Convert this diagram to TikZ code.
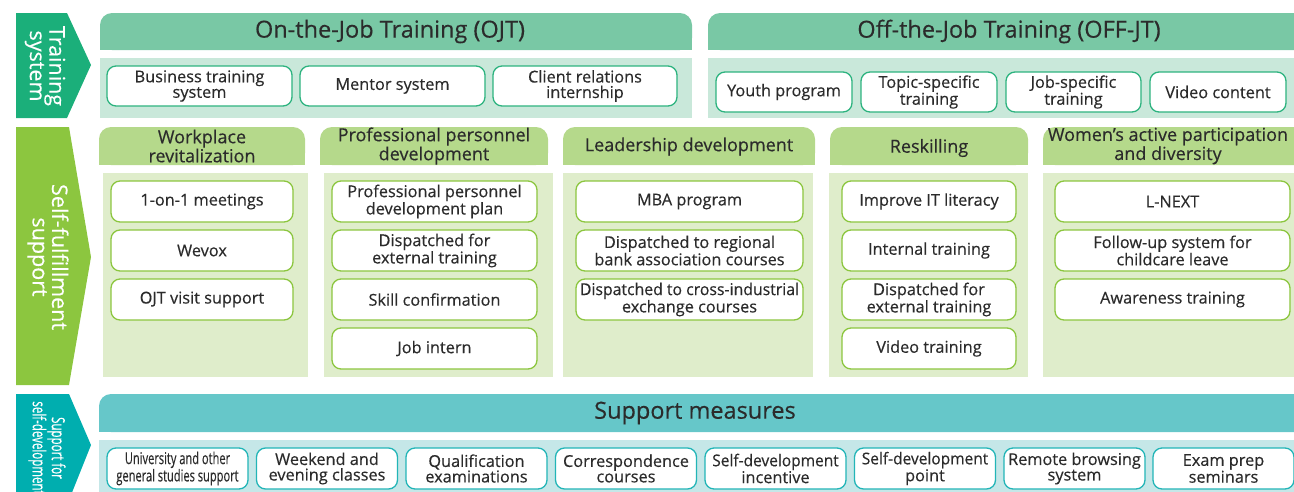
\documentclass[tikz,border=0pt]{standalone}
\usepackage{fontspec}
\setmainfont{Open Sans}[FakeBold=0.35]
\definecolor{tsArrow}{HTML}{1BAF7A}
\definecolor{ojtHead}{HTML}{79C8A5}
\definecolor{ojtBody}{HTML}{C9E8DA}
\definecolor{ojtLine}{HTML}{2DB37F}
\definecolor{sfArrow}{HTML}{8CC63F}
\definecolor{sfHead}{HTML}{B5D98B}
\definecolor{sfBody}{HTML}{DFEDCB}
\definecolor{sfLine}{HTML}{8CC63F}
\definecolor{smArrow}{HTML}{00AEAF}
\definecolor{smHead}{HTML}{66C7C9}
\definecolor{smBody}{HTML}{C5E7E8}
\definecolor{smLine}{HTML}{22B5B7}
\definecolor{txt}{HTML}{2B2B2B}
\begin{document}
\begin{tikzpicture}[x=1pt,y=-1pt,
  itm/.style={draw, line width=1.3pt, fill=white, rounded corners=9pt, inner sep=0pt,
    align=center, text=txt, font=\fontsize{16.3}{15.5}\selectfont},
  itmT/.style={itm, draw=ojtLine, minimum height=40pt},
  itmS/.style={itm, draw=sfLine, minimum height=41pt},
  itmM/.style={itm, draw=smLine, minimum height=41pt, minimum width=141pt},
  bigT/.style={text=txt, font=\fontsize{23.5}{23}\selectfont},
  midT/.style={text=txt, align=center, font=\fontsize{18}{17}\selectfont},
  arrT/.style={rotate=-90, text=white, align=center, font=\fontsize{21.5}{19.5}\selectfont},
]
\useasboundingbox (0,0) rectangle (1294,491);

% ---------- left arrows ----------
\fill[tsArrow] (16,13) -- (67,13) -- (91,65) -- (67,118) -- (16,118) -- cycle;
\node[arrT] (ts) at (45,66) {Training\\system};
\fill[sfArrow] (16,127) -- (69,127) -- (91,257) -- (69,385) -- (16,385) -- cycle;
\node[arrT] (sf) at (48,257) {Self-fulfillment\\support};
\fill[smArrow] (16,394) -- (69,394) -- (91,445) -- (69,500) -- (16,500) -- cycle;
\node[arrT, font=\fontsize{18}{15.5}\selectfont] (sd) at (47,448)
  {\scalebox{0.64}[1]{Support for}\\\scalebox{0.64}[1]{self-development}};

% ---------- training system ----------
\fill[ojtHead, rounded corners=12pt] (100,13) rectangle (692,50);
\fill[ojtHead] (100,30) rectangle (692,50);
\node[bigT] (ojt) at (390,31.5) {On-the-Job Training (OJT)};
\fill[ojtBody] (100,58) rectangle (692,118);

\fill[ojtHead, rounded corners=12pt] (708,13) rectangle (1306,50);
\fill[ojtHead] (708,30) rectangle (1306,50);
\node[bigT] (offjt) at (1009,31.5) {Off-the-Job Training (OFF-JT)};
\fill[ojtBody] (708,58) rectangle (1306,118);

\node[itmT, minimum width=185pt] (bts) at (199.5,86) {Business training\\system};
\node[itmT, minimum width=185pt] (mnt) at (392.5,86) {Mentor system};
\node[itmT, minimum width=184pt] (cri) at (585,86) {Client relations\\internship};

\node[itmT, minimum width=136pt] (yth) at (784,92) {Youth program};
\node[itmT, minimum width=136pt] (tst) at (929,92) {Topic-specific\\training};
\node[itmT, minimum width=135pt] (jst) at (1073.5,92) {Job-specific\\training};
\node[itmT, minimum width=136pt] (vdc) at (1218,92) {Video content};

% ---------- self-fulfillment support ----------
\foreach \a/\b/\c/\d in {99/305/103/308, 320/548/324/553, 563/815/563/813, 830/1028/829/1028, 1043/1306/1043/1306}{
  \fill[sfHead, rounded corners=12pt] (\a,127) rectangle (\b,165);
  \fill[sfHead] (\a,145) rectangle (\b,165);
  \fill[sfBody] (\c,173) rectangle (\d,377);
}
\node[midT] (hw) at (202,146) {Workplace\\revitalization};
\node[midT] (hp) at (434,146) {Professional personnel\\development};
\node[midT] (hl) at (689,146.5) {Leadership development};
\node[midT] (hr) at (929,148) {Reskilling};
\node[midT] (hd) at (1168,146) {Women’s active participation\\and diversity};

\node[itmS, minimum width=182pt] (w1) at (202,201.5) {1-on-1 meetings};
\node[itmS, minimum width=182pt] (w2) at (202,250.5) {Wevox};
\node[itmS, minimum width=182pt] (w3) at (202,299.5) {OJT visit support};

\node[itmS, minimum width=205pt] (p1) at (434.5,201.5) {Professional personnel\\development plan};
\node[itmS, minimum width=205pt] (p2) at (434.5,250.5) {Dispatched for\\external training};
\node[itmS, minimum width=205pt] (p3) at (434.5,299.5) {Skill confirmation};
\node[itmS, minimum width=205pt] (p4) at (434.5,348.5) {Job intern};

\node[itmS, minimum width=227pt] (l1) at (689.5,201.5) {MBA program};
\node[itmS, minimum width=227pt] (l2) at (689.5,250.5) {Dispatched to regional\\bank association courses};
\node[itmS, minimum width=227pt] (l3) at (689.5,299.5) {\scalebox{0.97}[1]{Dispatched to cross-industrial}\\exchange courses};

\node[itmS, minimum width=174pt] (r1) at (929,201.5) {Improve IT literacy};
\node[itmS, minimum width=174pt] (r2) at (929,250.5) {Internal training};
\node[itmS, minimum width=174pt] (r3) at (929,299.5) {Dispatched for\\external training};
\node[itmS, minimum width=174pt] (r4) at (929,348.5) {Video training};

\node[itmS, minimum width=235pt] (d1) at (1172.5,201.5) {L-NEXT};
\node[itmS, minimum width=235pt] (d2) at (1172.5,250.5) {Follow-up system for\\childcare leave};
\node[itmS, minimum width=235pt] (d3) at (1172.5,299.5) {Awareness training};

% ---------- support measures ----------
\fill[smHead, rounded corners=12pt] (99,394) rectangle (1306,432);
\fill[smHead] (99,412) rectangle (1306,432);
\node[bigT] (sm) at (695,413) {Support measures};
\fill[smBody] (99,440) rectangle (1306,500);

\node[itmM] (s1) at (177.5,468.5) {\scalebox{0.68}[1]{University and other}\\\scalebox{0.68}[1]{general studies support}};
\node[itmM] (s2) at (327,468.5) {Weekend and\\evening classes};
\node[itmM] (s3) at (476.5,468.5) {Qualification\\examinations};
\node[itmM] (s4) at (626,468.5) {Correspondence\\courses};
\node[itmM] (s5) at (775.5,468.5) {\scalebox{0.95}[1]{Self-development}\\incentive};
\node[itmM] (s6) at (925,468.5) {\scalebox{0.95}[1]{Self-development}\\point};
\node[itmM] (s7) at (1074.5,468.5) {Remote browsing\\system};
\node[itmM] (s8) at (1223.5,468.5) {Exam prep\\seminars};
\end{tikzpicture}
\end{document}
